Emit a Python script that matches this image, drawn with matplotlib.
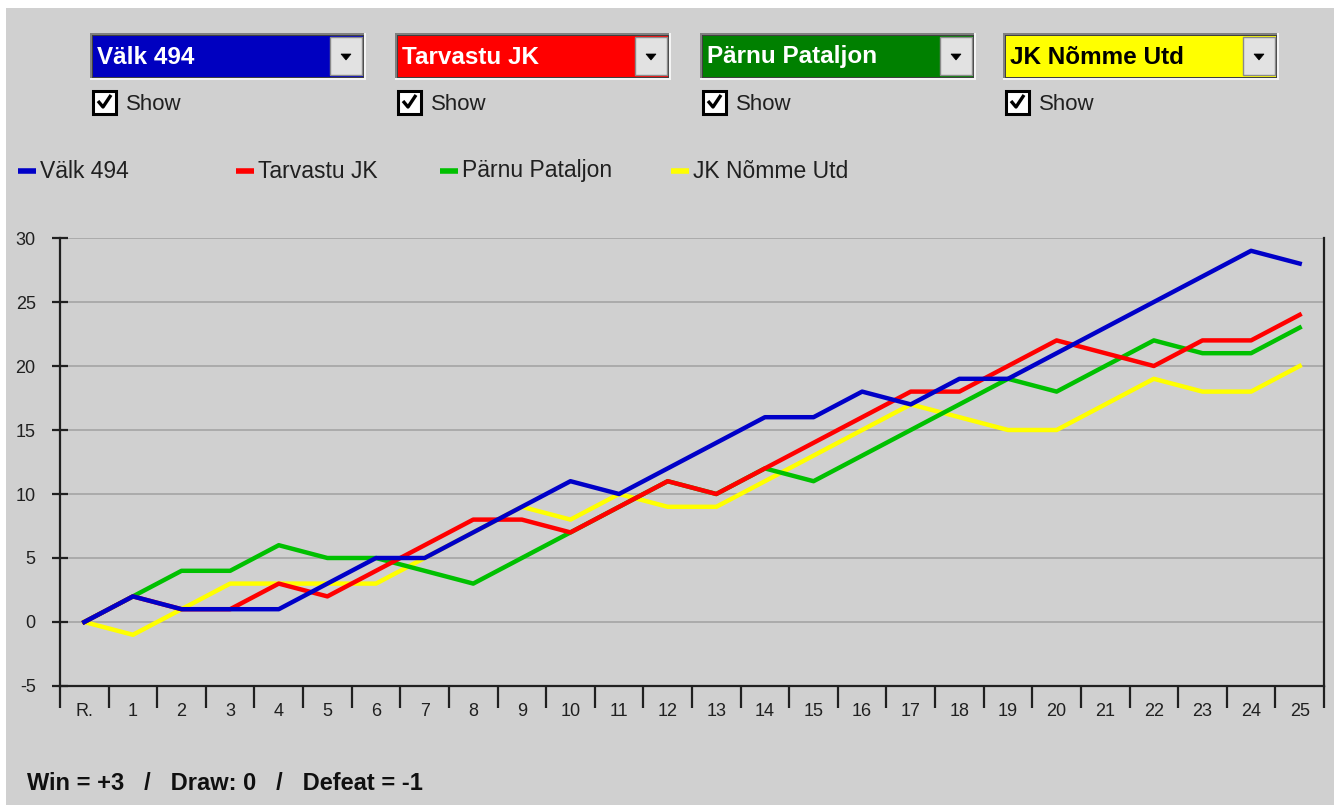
import matplotlib
matplotlib.use('Agg')
import matplotlib.pyplot as plt
from matplotlib.patches import Rectangle, Polygon
from matplotlib.lines import Line2D
import numpy as np

plt.rcParams['font.family'] = ['Liberation Sans', 'DejaVu Sans']
plt.rcParams['axes.unicode_minus'] = False

# data: points per round (win +3, draw 0, defeat -1)
rounds = ['R.'] + [str(i) for i in range(1, 26)]
teams = ['Välk 494', 'Tarvastu JK', 'Pärnu Pataljon', 'JK Nõmme Utd']
valk = [0, 2, 1, 1, 1, 3, 5, 5, 7, 9, 11, 10, 12, 14, 16, 16, 18, 17, 19, 19, 21, 23, 25, 27, 29, 28]
tarvastu = [0, 2, 1, 1, 3, 2, 4, 6, 8, 8, 7, 9, 11, 10, 12, 14, 16, 18, 18, 20, 22, 21, 20, 22, 22, 24]
parnu = [0, 2, 4, 4, 6, 5, 5, 4, 3, 5, 7, 9, 11, 10, 12, 11, 13, 15, 17, 19, 18, 20, 22, 21, 21, 23]
nomme = [0, -1, 1, 3, 3, 3, 3, 5, 7, 9, 8, 10, 9, 9, 11, 13, 15, 17, 16, 15, 15, 17, 19, 18, 18, 20]

line_colors = ['#0000c8', '#ff0000', '#00c000', '#ffff00']
box_colors = ['#0000c0', '#ff0000', '#008000', '#ffff00']
box_text = ['white', 'white', 'white', 'black']
BG = '#d0d0d0'

W, H = 1334, 805
fig = plt.figure(figsize=(W / 100, H / 100), dpi=100)
fig.patch.set_facecolor('white')

# pixel overlay for the form widgets
ui = fig.add_axes([0, 0, 1, 1])
ui.set_xlim(0, W)
ui.set_ylim(H, 0)
ui.axis('off')
ui.set_zorder(0)
ui.add_patch(Rectangle((6, 8), W - 6, H - 8, facecolor=BG, edgecolor='none'))

box_x = [90, 395, 700, 1003]
for bx, name, fc, tc in zip(box_x, teams, box_colors, box_text):
    ui.add_patch(Rectangle((bx, 33), 276, 47, facecolor='#f4f4f4', edgecolor='none'))
    ui.add_patch(Rectangle((bx, 33), 274, 45, facecolor='#808080', edgecolor='none'))
    ui.add_patch(Rectangle((bx + 2, 35), 272, 43, facecolor='#404040', edgecolor='none'))
    ui.add_patch(Rectangle((bx + 3, 36), 270, 41, facecolor=fc, edgecolor='none'))
    ui.add_patch(Rectangle((bx + 240, 37), 32, 38, facecolor='#e2e2e2', edgecolor='#8a8a8a', lw=1))
    cx = bx + 256
    ui.add_patch(Polygon([(cx - 5, 54), (cx + 5, 54), (cx, 60)], closed=True,
                         facecolor='black', edgecolor='black', lw=0.5))
    ui.text(bx + 7, 57, name, color=tc, fontsize=17.5, fontweight='bold', va='center', ha='left')
    # checkbox
    ui.add_patch(Rectangle((bx + 3, 91), 23, 23, facecolor='white', edgecolor='black', lw=2.2))
    ui.plot([bx + 8, bx + 13, bx + 21], [101, 107, 95], color='black', lw=2.4,
            solid_capstyle='butt')
    ui.text(bx + 36, 104, 'Show', color='#202020', fontsize=16, va='center', ha='left')

# chart
ax = fig.add_axes([60 / W, 1 - 686 / H, (1324 - 60) / W, (686 - 238) / H])
ax.set_zorder(1)
ax.patch.set_alpha(0)

x = np.arange(len(rounds))
series = [valk, tarvastu, parnu, nomme]
handles = []
for i in [3, 2, 1, 0]:
    ax.plot(x, series[i], color=line_colors[i], lw=3.2, zorder=3 + (3 - i))
for i in range(4):
    handles.append(Line2D([], [], color=line_colors[i], lw=4))

ax.set_xlim(-0.5, 25.5)
ax.set_ylim(-5, 30)
ax.set_yticks(range(-5, 31, 5))
ax.yaxis.grid(True, color='#a8a8a8', lw=1.3)
ax.set_axisbelow(True)
ax.set_xticks(x)
ax.set_xticklabels(rounds)
ax.set_xticks(np.arange(-0.5, 26, 1), minor=True)
ax.tick_params(axis='x', which='major', length=0, pad=12, labelsize=13, labelcolor='#202020')
ax.tick_params(axis='x', which='minor', length=16, width=1.6, direction='out', color='#202020')
ax.tick_params(axis='y', direction='inout', length=11, width=1.6, pad=12, labelsize=13,
               color='#202020', labelcolor='#202020')
ax.spines['top'].set_visible(False)
for s in ['left', 'bottom', 'right']:
    ax.spines[s].set_linewidth(1.6)
    ax.spines[s].set_color('#202020')

# legend row
leg_x = [18, 236, 440, 671]
for lx, h, name in zip(leg_x, handles, teams):
    ui.plot([lx, lx + 18], [171, 171], color=h.get_color(), lw=h.get_linewidth(),
            solid_capstyle='butt')
    ui.text(lx + 22, 171, name, color='#202020', fontsize=16.5, va='center', ha='left')

ui.text(27, 783, 'Win = +3   /   Draw: 0   /   Defeat = -1', color='#101010',
        fontsize=17, fontweight='bold', va='center', ha='left')

fig.savefig('out.png', dpi=100, facecolor=fig.get_facecolor())
